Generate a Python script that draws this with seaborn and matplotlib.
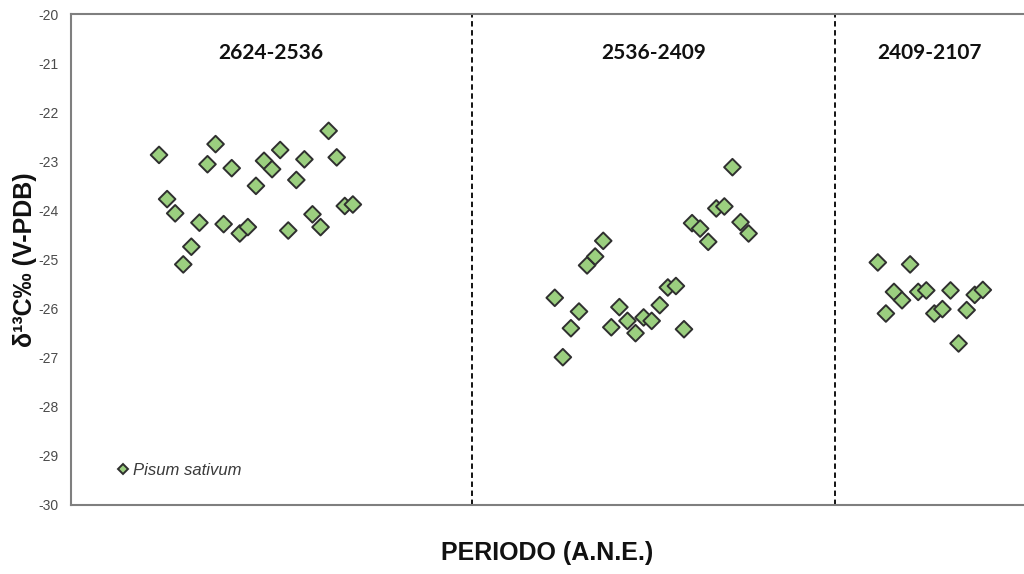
import numpy as np
import pandas as pd
import matplotlib
matplotlib.use("Agg")
import matplotlib.pyplot as plt
import seaborn as sns

# ---- data ----
periods = ["2624-2536", "2536-2409", "2409-2107"]
period_bounds = [-9.9, 39.7, 84.7, 108.1]   # sample-position boundaries between periods
group_start = [1, 50, 90]                    # sample position of first sample in each period

d13c_p1 = [-22.87, -23.77, -24.06, -25.10, -24.74, -24.25, -23.06, -22.65, -24.28,
           -23.14, -24.47, -24.34, -23.50, -22.99, -23.16, -22.77, -24.41, -23.38,
           -22.96, -24.08, -24.34, -22.38, -22.92, -23.91, -23.88]
d13c_p2 = [-25.78, -26.99, -26.40, -26.06, -25.12, -24.94, -24.62, -26.38, -25.97,
           -26.25, -26.50, -26.18, -26.25, -25.93, -25.57, -25.54, -26.42, -24.26,
           -24.37, -24.64, -23.96, -23.92, -23.12, -24.24, -24.47]
d13c_p3 = [-25.06, -26.10, -25.66, -25.83, -25.10, -25.66, -25.63, -26.10, -26.01,
           -25.63, -26.71, -26.03, -25.72, -25.62]

species = "Pisum sativum"
y_ticks = [-20, -21, -22, -23, -24, -25, -26, -27, -28, -29, -30]

rows = []
for start, vals, per in zip(group_start, [d13c_p1, d13c_p2, d13c_p3], periods):
    for i, v in enumerate(vals):
        rows.append({"pos": start + i, "d13C": v, "periodo": per, "especie": species})
df = pd.DataFrame(rows)

# ---- plot ----
sns.set_theme(style="white")
plt.rcParams["font.family"] = ["Liberation Sans", "DejaVu Sans"]

fig = plt.figure(figsize=(10.24, 5.74), dpi=100)
ax = fig.add_axes([71 / 1024, 1 - 505 / 574, (1024 - 71) / 1024, (505 - 14) / 574])

sns.scatterplot(data=df, x="pos", y="d13C", hue="especie", palette=["#9bcf7f"],
                marker="D", s=72, edgecolor="#2f2f2f", linewidth=1.4, ax=ax, zorder=3)

ax.set_xlim(period_bounds[0], period_bounds[-1])
ax.set_ylim(y_ticks[-1], y_ticks[0])
ax.set_yticks(y_ticks)
ax.set_yticklabels([str(t) for t in y_ticks])
ax.set_xticks([])
ax.tick_params(axis="y", length=0, pad=9, labelsize=10, labelcolor="#4a4a4a")

for side in ["left", "top", "bottom"]:
    ax.spines[side].set_visible(True)
    ax.spines[side].set_color("#7f7f7f")
    ax.spines[side].set_linewidth(1.5)
ax.spines["right"].set_visible(False)

for b in period_bounds[1:-1]:
    ax.axvline(b, color="black", linestyle=(0, (3, 2)), linewidth=1.3, zorder=2)

for lo, hi, per in zip(period_bounds[:-1], period_bounds[1:], periods):
    ax.text((lo + hi) / 2, -20.8, per, ha="center", va="center",
            fontfamily="Lato", fontweight="bold", fontsize=15, color="#111111")

ax.set_xlabel("PERIODO (A.N.E.)", fontsize=18, fontweight="bold", color="#111111")
ax.xaxis.set_label_coords(0.5, -0.074)
ax.set_ylabel("δ¹³C‰ (V-PDB)", fontsize=18, fontweight="bold", color="#111111")
ax.yaxis.set_label_coords(-0.036, 0.5)

leg = ax.legend(loc="center left", bbox_to_anchor=(0.048, 0.071), frameon=False,
                markerscale=0.55, handlelength=0.8, handletextpad=0.2, borderaxespad=0,
                borderpad=0,
                prop={"style": "italic", "size": 12, "family": "Liberation Sans"})
for t in leg.get_texts():
    t.set_color("#3a3a3a")

fig.savefig("out.png", dpi=100)
